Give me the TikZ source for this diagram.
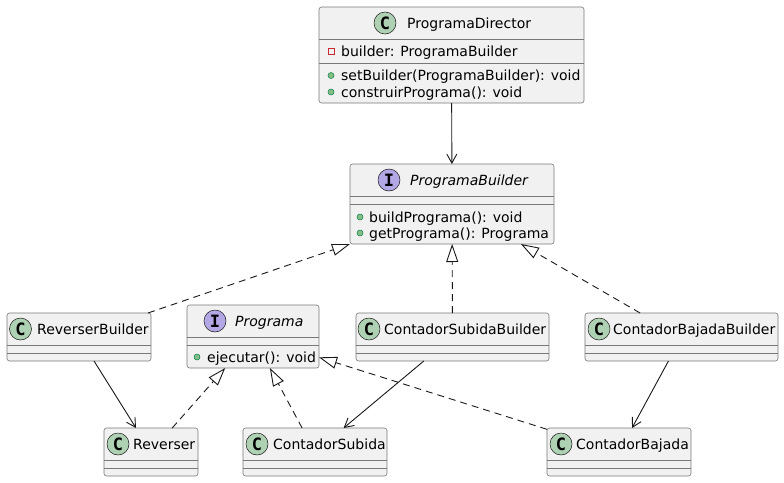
\documentclass[tikz,border=0pt]{standalone}
\usepackage{fontspec}
\setmainfont{DejaVu Sans}
\newfontfamily\iconfont{DejaVu Sans Mono}
\usetikzlibrary{arrows.meta}

\definecolor{boxfill}{HTML}{F1F1F1}
\definecolor{boxline}{HTML}{181818}
\definecolor{boxedge}{HTML}{787878}
\definecolor{classcol}{HTML}{ADD1B2}
\definecolor{ifacecol}{HTML}{B4A7E5}
\definecolor{pubfill}{HTML}{84BE84}
\definecolor{publine}{HTML}{038048}
\definecolor{privline}{HTML}{C82930}

\begin{document}
\begin{tikzpicture}
        [
            x=1pt, y=-1pt,
            cls/.style={rectangle, draw=boxedge, fill=boxfill, line width=0.6pt, rounded corners=2.5pt, inner sep=0pt, outer sep=0pt},
            sepline/.style={draw=boxedge, line width=0.6pt},
            icon/.style={circle, draw=boxline, line width=0.5pt, minimum size=22pt, inner sep=0pt, font=\iconfont\bfseries\fontsize{17}{17}\selectfont},
            title/.style={anchor=base west, inner sep=0pt, font=\fontsize{14}{16}\selectfont},
            member/.style={anchor=base west, inner sep=0pt, font=\fontsize{14}{16}\selectfont},
            pub/.style={circle, draw=publine, fill=pubfill, line width=0.5pt, minimum size=6pt, inner sep=0pt},
            priv/.style={rectangle, draw=privline, line width=0.8pt, minimum size=6pt, inner sep=0pt},
            assoc/.style={draw=boxline, line width=0.9pt, -{Straight Barb[length=9pt,width=10pt]}},
            real/.style={draw=boxline, line width=0.9pt, dash pattern=on 7pt off 5pt, -{Triangle[open,length=18pt,width=12pt]}},
        ]
        \useasboundingbox (0,0) rectangle (784,482);
        % class boxes: name / left / top / right / bottom / separators
        \foreach \n/\xa/\ya/\xb/\yb/\sa/\sb in {dir/319/7/584/103/39/63, pb/350/164/554/244/196/204,
            rb/7/313/151/361/345/353, prog/187/305/319/368/337/345, csb/356/313/549/361/345/353,
            cbb/585/313/778/361/345/353, rev/104/428/198/476/460/468, cs/243/428/387/476/460/468,
            cb/547/428/691/476/460/468}
        {
            \node[cls, minimum width={(\xb-\xa)*1pt}, minimum height={(\yb-\ya)*1pt}] (\n) at ({(\xa+\xb)/2},{(\ya+\yb)/2}) {};
            \draw[sepline] (\xa,\sa) -- (\xb,\sa) (\xa,\sb) -- (\xb,\sb);
        }
        % headers
        \foreach \n/\ix/\iy/\tx/\txt in {dir/385/23/407/ProgramaDirector, rb/20.5/329/37/ReverserBuilder,
            csb/369/329/384/ContadorSubidaBuilder, cbb/599/329/613/ContadorBajadaBuilder,
            rev/118/444/133/Reverser, cs/257/444/273/ContadorSubida, cb/561/444/576/ContadorBajada}
        {
            \node[icon, fill=classcol] (\n-icon) at (\ix,\iy) {C};
            \node[title] (\n-name) at (\tx,\iy+5) {\txt};
        }
        \node[icon, fill=ifacecol] (pb-icon) at (389,180) {I};
        \node[title, font=\itshape\fontsize{14}{16}\selectfont] (pb-name) at (410,185) {ProgramaBuilder};
        \node[icon, fill=ifacecol] (prog-icon) at (215,321) {I};
        \node[title, font=\itshape\fontsize{14}{16}\selectfont] (prog-name) at (235,326) {Programa};
        % members
        \node[priv] (dir-m1) at (331,51) {};
        \node[member] at (341,56) {builder: ProgramaBuilder};
        \node[pub] (dir-m2) at (331,75.5) {};
        \node[member] at (341,80.5) {setBuilder(ProgramaBuilder): void};
        \node[pub] (dir-m3) at (331,92) {};
        \node[member] at (341,97) {construirPrograma(): void};
        \node[pub] (pb-m1) at (360,217) {};
        \node[member] at (369,222) {buildPrograma(): void};
        \node[pub] (pb-m2) at (360,233) {};
        \node[member] at (369,238) {getPrograma(): Programa};
        \node[pub] (prog-m1) at (197,357) {};
        \node[member] at (207,362) {ejecutar(): void};
        % connectors
        \draw[assoc] (dir) -- (pb);
        \draw[real] ([xshift=-3pt]rb.north east) -- (pb.south west);
        \draw[real] (csb) -- (pb);
        \draw[real] (cbb) -- (pb);
        \draw[real] (rev) -- (prog);
        \draw[real] (cs) -- (prog);
        \draw[real] (cb) -- (prog);
        \draw[assoc] (rb) -- (rev);
        \draw[assoc] (csb) -- (cs);
        \draw[assoc] (cbb) -- (cb);
\end{tikzpicture}
\end{document}
